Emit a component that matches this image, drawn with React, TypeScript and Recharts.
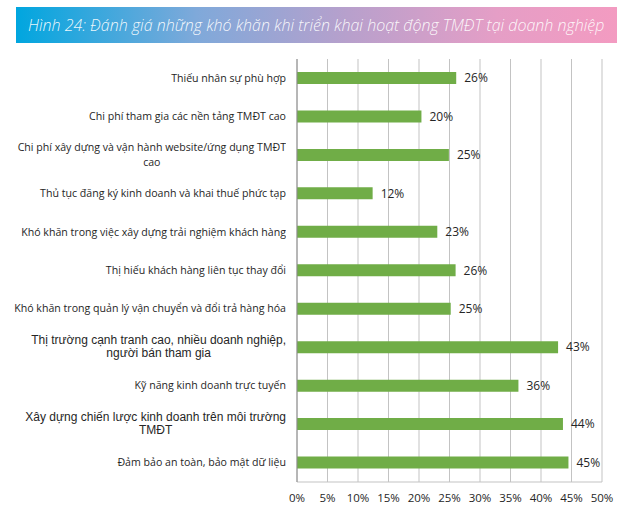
import React from 'react';
import { BarChart, Bar, XAxis, YAxis, CartesianGrid, LabelList } from 'recharts';

const title = 'Hình 24: Đánh giá những khó khăn khi triển khai hoạt động TMĐT tại doanh nghiệp';

const categories = [
  'Thiếu nhân sự phù hợp',
  'Chi phí tham gia các nền tảng TMĐT cao',
  'Chi phí xây dựng và vận hành website/ứng dụng TMĐT\ncao',
  'Thủ tục đăng ký kinh doanh và khai thuế phức tạp',
  'Khó khăn trong việc xây dựng trải nghiệm khách hàng',
  'Thị hiếu khách hàng liên tục thay đổi',
  'Khó khăn trong quản lý vận chuyển và đổi trả hàng hóa',
  'Thị trường cạnh tranh cao, nhiều doanh nghiệp,\nngười bán tham gia',
  'Kỹ năng kinh doanh trực tuyến',
  'Xây dựng chiến lược kinh doanh trên môi trường\nTMĐT',
  'Đảm bảo an toàn, bảo mật dữ liệu',
];

const values = [26.1, 20.4, 24.9, 12.4, 23.0, 26.0, 25.2, 42.8, 36.3, 43.6, 44.5];

const xTicks = [0, 5, 10, 15, 20, 25, 30, 35, 40, 45, 50];

const arialCategories = [7, 9];

const data = categories.map((name, i) => ({ name, value: values[i] }));

const CALIBRI = '"Open Sans", "Noto Sans", sans-serif';
const ARIAL = '"Liberation Sans", Arial, sans-serif';

function CategoryTick(props: any) {
  const { x, y, payload, index } = props;
  const isArial = arialCategories.includes(index);
  const w = 290;
  const h = 40;
  return (
    <foreignObject x={x - w} y={y - h / 2} width={w} height={h}>
      <div
        style={{
          width: w,
          height: h,
          display: 'flex',
          alignItems: 'center',
          justifyContent: 'flex-end',
        }}
      >
        <div
          style={{
            textAlign: 'center',
            whiteSpace: 'pre-line',
            fontFamily: isArial ? ARIAL : CALIBRI,
            fontSize: isArial ? 12 : 10.6,
            lineHeight: isArial ? '13px' : '15px',
            color: '#262626',
          }}
        >
          {payload.value}
        </div>
      </div>
    </foreignObject>
  );
}

export default function App() {
  return (
    <div style={{ position: 'absolute', left: 0, top: 0, width: 632, height: 514, background: '#fff' }}>
      <div
        style={{
          position: 'absolute',
          left: 16,
          top: 7,
          width: 601,
          height: 36,
          background: 'linear-gradient(to right, #00a6df 0%, #7fa9da 30%, #b7a0cc 55%, #e59ec6 80%, #f39bc1 100%)',
          color: 'rgba(255,255,255,0.92)',
          fontFamily: '"Open Sans", sans-serif',
          fontStyle: 'italic',
          fontWeight: 300,
          fontSize: 16,
          lineHeight: '36px',
          paddingLeft: 12,
          boxSizing: 'border-box',
          whiteSpace: 'nowrap',
        }}
      >
        {title}
      </div>
      <div style={{ position: 'absolute', left: 0, top: 0 }}>
        <BarChart
          width={632}
          height={514}
          data={data}
          layout="vertical"
          margin={{ top: 59, right: 30, bottom: 0, left: 0 }}
          barCategoryGap={0}
        >
          <CartesianGrid horizontal={false} stroke="#c3c3c3" strokeWidth={1} />
          <XAxis
            type="number"
            domain={[0, 50]}
            ticks={xTicks}
            tickFormatter={(v: number) => `${v}%`}
            height={32}
            tickLine={false}
            tickSize={0}
            tickMargin={12}
            axisLine={{ stroke: '#c3c3c3' }}
            tick={{ fontFamily: CALIBRI, fontSize: 11.5, fill: '#262626' }}
            interval={0}
          />
          <YAxis
            type="category"
            dataKey="name"
            width={297}
            tickLine={false}
            tickSize={0}
            tickMargin={11}
            axisLine={{ stroke: '#8c8c8c' }}
            tick={<CategoryTick />}
            interval={0}
          />
          <Bar dataKey="value" fill="#70ad47" barSize={12} isAnimationActive={false}>
            <LabelList
              dataKey="value"
              position="right"
              offset={8}
              formatter={(v: number) => `${Math.round(v)}%`}
              style={{ fontFamily: CALIBRI, fontSize: 12, fill: '#262626' }}
            />
          </Bar>
        </BarChart>
      </div>
    </div>
  );
}
